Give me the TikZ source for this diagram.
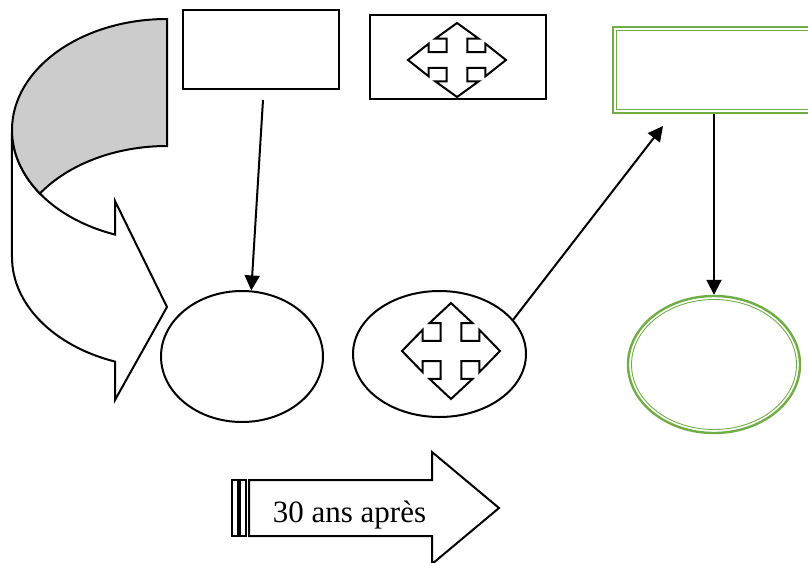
\documentclass[tikz,border=0pt]{standalone}
\usepackage{fontspec}
\setmainfont{Liberation Serif}
\usetikzlibrary{arrows.meta, positioning, calc, shapes}

\definecolor{vertclair}{RGB}{112,173,71}
\tikzset{
    boite/.style={draw, line width=2pt, inner sep=0pt},
    ovale/.style={draw, ellipse, line width=2pt, inner sep=0pt},
    fleche/.style={line width=2pt, -{Triangle[length=15pt,width=15pt]}},
    traitvert/.style={draw=vertclair, line width=2.4pt, inner sep=0pt},
    traitfin/.style={draw=vertclair, line width=0.9pt, inner sep=0pt},
    croix/.pic={
        \draw[line width=2pt, line join=miter, fill=white] (0,1) -- (0.44,0.58) -- (0.21,0.58) -- (0.21,0.21) -- (0.58,0.21) -- (0.58,0.44) -- (1,0)
            -- (0.58,-0.44) -- (0.58,-0.21) -- (0.21,-0.21) -- (0.21,-0.58) -- (0.44,-0.58) -- (0,-1)
            -- (-0.44,-0.58) -- (-0.21,-0.58) -- (-0.21,-0.21) -- (-0.58,-0.21) -- (-0.58,-0.44) -- (-1,0)
            -- (-0.58,0.44) -- (-0.58,0.21) -- (-0.21,0.21) -- (-0.21,0.58) -- (-0.44,0.58) -- cycle;
    }
}

\begin{document}
\begin{tikzpicture}[x=1pt, y=-1pt]
    \useasboundingbox (0,0) rectangle (808,562);
    \clip (0,0) rectangle (808,562);

    \draw[line width=2pt, line join=miter, fill=white] (12,130) arc[start angle=180, end angle=109.6, x radius=155, y radius=111]
        -- (115,201) -- (167,307) -- (115,400) -- (115,361.6)
        arc[start angle=109.6, end angle=180, x radius=155, y radius=111] -- cycle;
    \draw[line width=2pt, fill=gray!40] (167,19) arc[start angle=-90, end angle=-180, x radius=155, y radius=111]
        arc[start angle=180, end angle=145.1, x radius=155, y radius=111]
        arc[start angle=214.9, end angle=270, x radius=155, y radius=111] -- cycle;

    \node[boite, minimum width=156pt, minimum height=79pt] (cadre) at (261,49.5) {};
    \node[boite, minimum width=176pt, minimum height=84pt] (cadrecroix) at (458,57) {};
    \pic[xscale=49, yscale=37] at (457,60) {croix};
    \node[traitvert, minimum width=247pt, minimum height=86pt] (cadrevert) at (736.5,70) {};
    \node[traitfin, minimum width=240pt, minimum height=79pt] (cadrevertint) at (cadrevert) {};

    \node[ovale, minimum width=162pt, minimum height=131pt] (rond) at (242,356.5) {};
    \node[ovale, minimum width=173pt, minimum height=126pt] (rondcroix) at (439.5,354) {};
    \pic[xscale=49, yscale=48] at (451,351) {croix};
    \node[traitvert, ellipse, minimum width=172pt, minimum height=137pt] (rondvert) at (714,364.5) {};
    \node[traitfin, ellipse, minimum width=165pt, minimum height=130pt] (rondvertint) at (rondvert) {};

    \coordinate (depart) at (263,100);
    \coordinate (arrivee) at (663,126);
    \draw[fleche] (depart) -- (rond.82);
    \draw[fleche] (rondcroix.25) -- (arrivee);
    \draw[fleche] (cadrevert.south -| rondvert.north) -- (rondvert.north);

    \draw[line width=2pt, line join=miter] (249,480) -- (432,480) -- (432,452) -- (499,508) -- (432,564) -- (432,536) -- (249,536) -- cycle;
    \draw[line width=2pt] (232,480) rectangle (238,536);
    \draw[line width=2pt] (240,480) rectangle (246,536);
    \node[anchor=base, font=\fontsize{31}{31}\selectfont] (texte) at (349.5,522) {30 ans après};
\end{tikzpicture}
\end{document}
